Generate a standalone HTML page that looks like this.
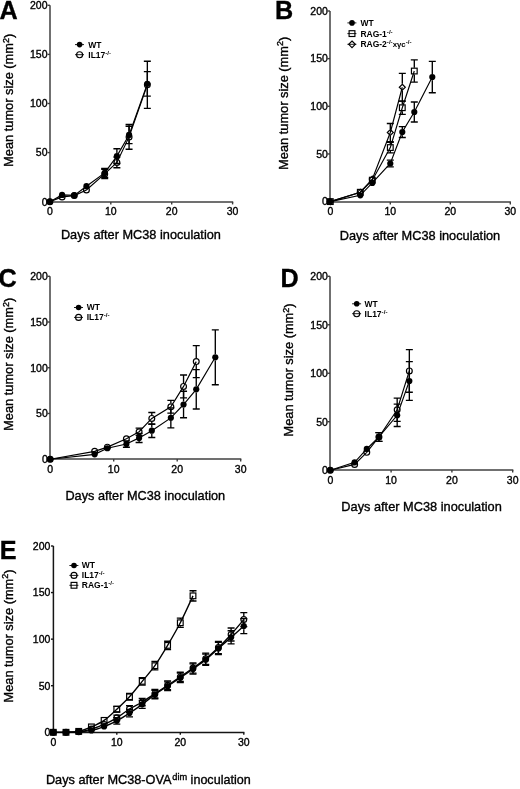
<!DOCTYPE html>
<html><head><meta charset="utf-8"><style>
html,body{margin:0;padding:0;background:#fff;}
svg{display:block;will-change:transform;}
text{font-family:"Liberation Sans", sans-serif;fill:#000;stroke:#000;stroke-width:0.35px;}
.nb{stroke-width:0}
</style></head><body>
<svg width="520" height="789" viewBox="0 0 520 789">
<rect width="520" height="789" fill="#fff"/>

<line x1="50" y1="5.3" x2="50" y2="203" stroke="#707070" stroke-width="2"/><line x1="49" y1="202" x2="233.2" y2="202" stroke="#707070" stroke-width="2"/><line x1="47.6" y1="201.7" x2="50" y2="201.7" stroke="#3c3c3c" stroke-width="1.4"/><text x="47.5" y="205.5" text-anchor="end" font-size="10.5">0</text><line x1="47.6" y1="152.6" x2="50" y2="152.6" stroke="#3c3c3c" stroke-width="1.4"/><text x="47.5" y="156.4" text-anchor="end" font-size="10.5">50</text><line x1="47.6" y1="103.5" x2="50" y2="103.5" stroke="#3c3c3c" stroke-width="1.4"/><text x="47.5" y="107.3" text-anchor="end" font-size="10.5">100</text><line x1="47.6" y1="54.4" x2="50" y2="54.4" stroke="#3c3c3c" stroke-width="1.4"/><text x="47.5" y="58.2" text-anchor="end" font-size="10.5">150</text><line x1="47.6" y1="5.3" x2="50" y2="5.3" stroke="#3c3c3c" stroke-width="1.4"/><text x="47.5" y="9.1" text-anchor="end" font-size="10.5">200</text><line x1="49.9" y1="202" x2="49.9" y2="204.4" stroke="#3c3c3c" stroke-width="1.4"/><text x="49.9" y="215" text-anchor="middle" font-size="10.5">0</text><line x1="110.8" y1="202" x2="110.8" y2="204.4" stroke="#3c3c3c" stroke-width="1.4"/><text x="110.8" y="215" text-anchor="middle" font-size="10.5">10</text><line x1="171.7" y1="202" x2="171.7" y2="204.4" stroke="#3c3c3c" stroke-width="1.4"/><text x="171.7" y="215" text-anchor="middle" font-size="10.5">20</text><line x1="232.6" y1="202" x2="232.6" y2="204.4" stroke="#3c3c3c" stroke-width="1.4"/><text x="232.6" y="215" text-anchor="middle" font-size="10.5">30</text>
<path d="M49.9 201.7L62.08 196.89L74.26 195.61L86.44 190.01L104.71 173.91L116.89 162.42L129.07 136.89L147.34 84.84" stroke="#000" stroke-width="1.15" fill="none"/>
<path d="M49.9 201.7L62.08 194.92L74.26 195.42L86.44 186.18L104.71 172.93L116.89 156.14L129.07 134.92L147.34 83.86" stroke="#000" stroke-width="1.15" fill="none"/>
<path d="M101.21 169.29H108.21M101.21 178.52H108.21M104.71 169.29V170.51M104.71 177.31V178.52" stroke="#000" stroke-width="1.35" fill="none"/><path d="M113.39 157.12H120.39M113.39 167.72H120.39M116.89 157.12V159.02M116.89 165.82V167.72" stroke="#000" stroke-width="1.35" fill="none"/><path d="M125.57 124.51H132.57M125.57 149.26H132.57M129.07 124.51V133.49M129.07 140.29V149.26" stroke="#000" stroke-width="1.35" fill="none"/><path d="M143.84 61.27H150.84M143.84 108.41H150.84M147.34 61.27V81.44M147.34 88.24V108.41" stroke="#000" stroke-width="1.35" fill="none"/>
<path d="M101.21 168.51H108.21M101.21 177.35H108.21M104.71 168.51V169.83M104.71 176.03V177.35" stroke="#000" stroke-width="1.35" fill="none"/><path d="M113.39 148.77H120.39M113.39 163.5H120.39M116.89 148.77V153.04M116.89 159.24V163.5" stroke="#000" stroke-width="1.35" fill="none"/><path d="M125.57 126.28H132.57M125.57 143.57H132.57M129.07 126.28V131.82M129.07 138.02V143.57" stroke="#000" stroke-width="1.35" fill="none"/><path d="M143.84 71.58H150.84M143.84 96.13H150.84M147.34 71.58V80.76M147.34 86.96V96.13" stroke="#000" stroke-width="1.35" fill="none"/>
<circle cx="49.9" cy="201.7" r="3.1" fill="#000"/><circle cx="62.08" cy="194.92" r="3.1" fill="#000"/><circle cx="74.26" cy="195.42" r="3.1" fill="#000"/><circle cx="86.44" cy="186.18" r="3.1" fill="#000"/><circle cx="104.71" cy="172.93" r="3.1" fill="#000"/><circle cx="116.89" cy="156.14" r="3.1" fill="#000"/><circle cx="129.07" cy="134.92" r="3.1" fill="#000"/><circle cx="147.34" cy="83.86" r="3.1" fill="#000"/>
<circle cx="49.9" cy="201.7" r="2.9" fill="none" stroke="#000" stroke-width="1.2"/><circle cx="62.08" cy="196.89" r="2.9" fill="none" stroke="#000" stroke-width="1.2"/><circle cx="74.26" cy="195.61" r="2.9" fill="none" stroke="#000" stroke-width="1.2"/><circle cx="86.44" cy="190.01" r="2.9" fill="none" stroke="#000" stroke-width="1.2"/><circle cx="104.71" cy="173.91" r="2.9" fill="none" stroke="#000" stroke-width="1.2"/><circle cx="116.89" cy="162.42" r="2.9" fill="none" stroke="#000" stroke-width="1.2"/><circle cx="129.07" cy="136.89" r="2.9" fill="none" stroke="#000" stroke-width="1.2"/><circle cx="147.34" cy="84.84" r="2.9" fill="none" stroke="#000" stroke-width="1.2"/>
<line x1="330" y1="11" x2="330" y2="203" stroke="#707070" stroke-width="2"/><line x1="329" y1="202" x2="510.9" y2="202" stroke="#707070" stroke-width="2"/><line x1="327.6" y1="201.6" x2="330" y2="201.6" stroke="#3c3c3c" stroke-width="1.4"/><text x="327.9" y="205.4" text-anchor="end" font-size="10.5">0</text><line x1="327.6" y1="153.95" x2="330" y2="153.95" stroke="#3c3c3c" stroke-width="1.4"/><text x="327.9" y="157.75" text-anchor="end" font-size="10.5">50</text><line x1="327.6" y1="106.3" x2="330" y2="106.3" stroke="#3c3c3c" stroke-width="1.4"/><text x="327.9" y="110.1" text-anchor="end" font-size="10.5">100</text><line x1="327.6" y1="58.65" x2="330" y2="58.65" stroke="#3c3c3c" stroke-width="1.4"/><text x="327.9" y="62.45" text-anchor="end" font-size="10.5">150</text><line x1="327.6" y1="11" x2="330" y2="11" stroke="#3c3c3c" stroke-width="1.4"/><text x="327.9" y="14.8" text-anchor="end" font-size="10.5">200</text><line x1="330.3" y1="202" x2="330.3" y2="204.4" stroke="#3c3c3c" stroke-width="1.4"/><text x="330.3" y="214.9" text-anchor="middle" font-size="10.5">0</text><line x1="390.3" y1="202" x2="390.3" y2="204.4" stroke="#3c3c3c" stroke-width="1.4"/><text x="390.3" y="214.9" text-anchor="middle" font-size="10.5">10</text><line x1="450.3" y1="202" x2="450.3" y2="204.4" stroke="#3c3c3c" stroke-width="1.4"/><text x="450.3" y="214.9" text-anchor="middle" font-size="10.5">20</text><line x1="510.3" y1="202" x2="510.3" y2="204.4" stroke="#3c3c3c" stroke-width="1.4"/><text x="510.3" y="214.9" text-anchor="middle" font-size="10.5">30</text>
<path d="M330.3 201.6L360.3 192.26L372.3 179.11L390.3 132.51L402.3 87.24" stroke="#000" stroke-width="1.15" fill="none"/>
<path d="M330.3 201.6L360.3 192.26L372.3 180.16L390.3 147.56L402.3 107.73L414.3 71.04" stroke="#000" stroke-width="1.15" fill="none"/>
<path d="M330.3 201.6L360.3 195.31L372.3 182.92L390.3 163.48L402.3 132.03L414.3 112.02L432.3 77.04" stroke="#000" stroke-width="1.15" fill="none"/>
<path d="M386.8 123.45H393.8M386.8 141.56H393.8M390.3 123.45V129.11M390.3 135.91V141.56" stroke="#000" stroke-width="1.35" fill="none"/><path d="M398.8 73.42H405.8M398.8 101.06H405.8M402.3 73.42V83.84M402.3 90.64V101.06" stroke="#000" stroke-width="1.35" fill="none"/>
<path d="M386.8 142.32H393.8M386.8 152.81H393.8M390.3 142.32V144.16M390.3 150.96V152.81" stroke="#000" stroke-width="1.35" fill="none"/><path d="M398.8 101.06H405.8M398.8 114.4H405.8M402.3 101.06V104.33M402.3 111.13V114.4" stroke="#000" stroke-width="1.35" fill="none"/><path d="M410.8 59.89H417.8M410.8 82.19H417.8M414.3 59.89V67.64M414.3 74.44V82.19" stroke="#000" stroke-width="1.35" fill="none"/>
<path d="M386.8 160.14H393.8M386.8 166.82H393.8M390.3 160.14V160.38M390.3 166.58V166.82" stroke="#000" stroke-width="1.35" fill="none"/><path d="M398.8 126.6H405.8M398.8 137.46H405.8M402.3 126.6V128.93M402.3 135.13V137.46" stroke="#000" stroke-width="1.35" fill="none"/><path d="M410.8 102.01H417.8M410.8 122.02H417.8M414.3 102.01V108.92M414.3 115.12V122.02" stroke="#000" stroke-width="1.35" fill="none"/><path d="M428.8 61.32H435.8M428.8 92.77H435.8M432.3 61.32V73.94M432.3 80.14V92.77" stroke="#000" stroke-width="1.35" fill="none"/>
<circle cx="330.3" cy="201.6" r="3.1" fill="#000"/><circle cx="360.3" cy="195.31" r="3.1" fill="#000"/><circle cx="372.3" cy="182.92" r="3.1" fill="#000"/><circle cx="390.3" cy="163.48" r="3.1" fill="#000"/><circle cx="402.3" cy="132.03" r="3.1" fill="#000"/><circle cx="414.3" cy="112.02" r="3.1" fill="#000"/><circle cx="432.3" cy="77.04" r="3.1" fill="#000"/>
<rect x="327.45" y="198.75" width="5.7" height="5.7" fill="none" stroke="#000" stroke-width="1.2"/><rect x="357.45" y="189.41" width="5.7" height="5.7" fill="none" stroke="#000" stroke-width="1.2"/><rect x="369.45" y="177.31" width="5.7" height="5.7" fill="none" stroke="#000" stroke-width="1.2"/><rect x="387.45" y="144.71" width="5.7" height="5.7" fill="none" stroke="#000" stroke-width="1.2"/><rect x="399.45" y="104.88" width="5.7" height="5.7" fill="none" stroke="#000" stroke-width="1.2"/><rect x="411.45" y="68.19" width="5.7" height="5.7" fill="none" stroke="#000" stroke-width="1.2"/>
<path d="M330.3 198.6L333.3 201.6L330.3 204.6L327.3 201.6Z" fill="none" stroke="#000" stroke-width="1.2"/><path d="M360.3 189.26L363.3 192.26L360.3 195.26L357.3 192.26Z" fill="none" stroke="#000" stroke-width="1.2"/><path d="M372.3 176.11L375.3 179.11L372.3 182.11L369.3 179.11Z" fill="none" stroke="#000" stroke-width="1.2"/><path d="M390.3 129.51L393.3 132.51L390.3 135.51L387.3 132.51Z" fill="none" stroke="#000" stroke-width="1.2"/><path d="M402.3 84.24L405.3 87.24L402.3 90.24L399.3 87.24Z" fill="none" stroke="#000" stroke-width="1.2"/>
<line x1="50" y1="276.3" x2="50" y2="460" stroke="#707070" stroke-width="2"/><line x1="49" y1="459" x2="241.3" y2="459" stroke="#707070" stroke-width="2"/><line x1="47.6" y1="459.2" x2="50" y2="459.2" stroke="#3c3c3c" stroke-width="1.4"/><text x="47.8" y="463" text-anchor="end" font-size="10.5">0</text><line x1="47.6" y1="413.47" x2="50" y2="413.47" stroke="#3c3c3c" stroke-width="1.4"/><text x="47.8" y="417.27" text-anchor="end" font-size="10.5">50</text><line x1="47.6" y1="367.75" x2="50" y2="367.75" stroke="#3c3c3c" stroke-width="1.4"/><text x="47.8" y="371.55" text-anchor="end" font-size="10.5">100</text><line x1="47.6" y1="322.02" x2="50" y2="322.02" stroke="#3c3c3c" stroke-width="1.4"/><text x="47.8" y="325.82" text-anchor="end" font-size="10.5">150</text><line x1="47.6" y1="276.3" x2="50" y2="276.3" stroke="#3c3c3c" stroke-width="1.4"/><text x="47.8" y="280.1" text-anchor="end" font-size="10.5">200</text><line x1="50.2" y1="459" x2="50.2" y2="461.4" stroke="#3c3c3c" stroke-width="1.4"/><text x="50.2" y="472.5" text-anchor="middle" font-size="10.5">0</text><line x1="113.7" y1="459" x2="113.7" y2="461.4" stroke="#3c3c3c" stroke-width="1.4"/><text x="113.7" y="472.5" text-anchor="middle" font-size="10.5">10</text><line x1="177.2" y1="459" x2="177.2" y2="461.4" stroke="#3c3c3c" stroke-width="1.4"/><text x="177.2" y="472.5" text-anchor="middle" font-size="10.5">20</text><line x1="240.7" y1="459" x2="240.7" y2="461.4" stroke="#3c3c3c" stroke-width="1.4"/><text x="240.7" y="472.5" text-anchor="middle" font-size="10.5">30</text>
<path d="M50.2 459.2L94.65 451.34L107.35 447.13L126.4 438.72L139.1 431.76L151.8 418.41L170.85 406.71L183.55 386.41L196.25 361.62" stroke="#000" stroke-width="1.15" fill="none"/>
<path d="M50.2 459.2L94.65 454.35L107.35 448.23L126.4 444.02L139.1 437.89L151.8 430.67L170.85 417.86L183.55 404.51L196.25 389.33L215.3 357.32" stroke="#000" stroke-width="1.15" fill="none"/>
<path d="M135.6 428.11H142.6M135.6 435.42H142.6M139.1 428.11V428.37M139.1 435.16V435.42" stroke="#000" stroke-width="1.35" fill="none"/><path d="M148.3 412.47H155.3M148.3 424.36H155.3M151.8 412.47V415.01M151.8 421.81V424.36" stroke="#000" stroke-width="1.35" fill="none"/><path d="M167.35 400.31H174.35M167.35 413.11H174.35M170.85 400.31V403.31M170.85 410.11V413.11" stroke="#000" stroke-width="1.35" fill="none"/><path d="M180.05 374.97H187.05M180.05 397.84H187.05M183.55 374.97V383.01M183.55 389.81V397.84" stroke="#000" stroke-width="1.35" fill="none"/><path d="M192.75 345.62H199.75M192.75 377.63H199.75M196.25 345.62V358.22M196.25 365.02V377.63" stroke="#000" stroke-width="1.35" fill="none"/>
<path d="M122.9 440.82H129.9M122.9 447.22H129.9M126.4 440.82V440.92M126.4 447.12V447.22" stroke="#000" stroke-width="1.35" fill="none"/><path d="M135.6 433.32H142.6M135.6 442.46H142.6M139.1 433.32V434.79M139.1 440.99V442.46" stroke="#000" stroke-width="1.35" fill="none"/><path d="M148.3 423.81H155.3M148.3 437.53H155.3M151.8 423.81V427.57M151.8 433.77V437.53" stroke="#000" stroke-width="1.35" fill="none"/><path d="M167.35 407.81H174.35M167.35 427.92H174.35M170.85 407.81V414.76M170.85 420.96V427.92" stroke="#000" stroke-width="1.35" fill="none"/><path d="M180.05 391.25H187.05M180.05 417.77H187.05M183.55 391.25V401.41M183.55 407.61V417.77" stroke="#000" stroke-width="1.35" fill="none"/><path d="M192.75 369.67H199.75M192.75 408.99H199.75M196.25 369.67V386.23M196.25 392.43V408.99" stroke="#000" stroke-width="1.35" fill="none"/><path d="M211.8 329.89H218.8M211.8 384.76H218.8M215.3 329.89V354.22M215.3 360.42V384.76" stroke="#000" stroke-width="1.35" fill="none"/>
<circle cx="50.2" cy="459.2" r="3.1" fill="#000"/><circle cx="94.65" cy="454.35" r="3.1" fill="#000"/><circle cx="107.35" cy="448.23" r="3.1" fill="#000"/><circle cx="126.4" cy="444.02" r="3.1" fill="#000"/><circle cx="139.1" cy="437.89" r="3.1" fill="#000"/><circle cx="151.8" cy="430.67" r="3.1" fill="#000"/><circle cx="170.85" cy="417.86" r="3.1" fill="#000"/><circle cx="183.55" cy="404.51" r="3.1" fill="#000"/><circle cx="196.25" cy="389.33" r="3.1" fill="#000"/><circle cx="215.3" cy="357.32" r="3.1" fill="#000"/>
<circle cx="50.2" cy="459.2" r="2.9" fill="none" stroke="#000" stroke-width="1.2"/><circle cx="94.65" cy="451.34" r="2.9" fill="none" stroke="#000" stroke-width="1.2"/><circle cx="107.35" cy="447.13" r="2.9" fill="none" stroke="#000" stroke-width="1.2"/><circle cx="126.4" cy="438.72" r="2.9" fill="none" stroke="#000" stroke-width="1.2"/><circle cx="139.1" cy="431.76" r="2.9" fill="none" stroke="#000" stroke-width="1.2"/><circle cx="151.8" cy="418.41" r="2.9" fill="none" stroke="#000" stroke-width="1.2"/><circle cx="170.85" cy="406.71" r="2.9" fill="none" stroke="#000" stroke-width="1.2"/><circle cx="183.55" cy="386.41" r="2.9" fill="none" stroke="#000" stroke-width="1.2"/><circle cx="196.25" cy="361.62" r="2.9" fill="none" stroke="#000" stroke-width="1.2"/>
<line x1="330" y1="276.3" x2="330" y2="471" stroke="#707070" stroke-width="2"/><line x1="329" y1="470" x2="513.3" y2="470" stroke="#707070" stroke-width="2"/><line x1="327.6" y1="470.2" x2="330" y2="470.2" stroke="#3c3c3c" stroke-width="1.4"/><text x="327.9" y="474" text-anchor="end" font-size="10.5">0</text><line x1="327.6" y1="421.72" x2="330" y2="421.72" stroke="#3c3c3c" stroke-width="1.4"/><text x="327.9" y="425.52" text-anchor="end" font-size="10.5">50</text><line x1="327.6" y1="373.25" x2="330" y2="373.25" stroke="#3c3c3c" stroke-width="1.4"/><text x="327.9" y="377.05" text-anchor="end" font-size="10.5">100</text><line x1="327.6" y1="324.77" x2="330" y2="324.77" stroke="#3c3c3c" stroke-width="1.4"/><text x="327.9" y="328.57" text-anchor="end" font-size="10.5">150</text><line x1="327.6" y1="276.3" x2="330" y2="276.3" stroke="#3c3c3c" stroke-width="1.4"/><text x="327.9" y="280.1" text-anchor="end" font-size="10.5">200</text><line x1="330.3" y1="470" x2="330.3" y2="472.4" stroke="#3c3c3c" stroke-width="1.4"/><text x="330.3" y="483.5" text-anchor="middle" font-size="10.5">0</text><line x1="391.1" y1="470" x2="391.1" y2="472.4" stroke="#3c3c3c" stroke-width="1.4"/><text x="391.1" y="483.5" text-anchor="middle" font-size="10.5">10</text><line x1="451.9" y1="470" x2="451.9" y2="472.4" stroke="#3c3c3c" stroke-width="1.4"/><text x="451.9" y="483.5" text-anchor="middle" font-size="10.5">20</text><line x1="512.7" y1="470" x2="512.7" y2="472.4" stroke="#3c3c3c" stroke-width="1.4"/><text x="512.7" y="483.5" text-anchor="middle" font-size="10.5">30</text>
<path d="M330.3 470.2L354.62 464.38L366.78 452.36L378.94 436.95L397.18 409.7L409.34 370.92" stroke="#000" stroke-width="1.15" fill="none"/>
<path d="M330.3 470.2L354.62 462.35L366.78 448.97L378.94 436.95L397.18 415.33L409.34 381.01" stroke="#000" stroke-width="1.15" fill="none"/>
<path d="M375.44 432.58H382.44M375.44 441.31H382.44M378.94 432.58V433.55M378.94 440.35V441.31" stroke="#000" stroke-width="1.35" fill="none"/><path d="M393.68 398.07H400.68M393.68 421.34H400.68M397.18 398.07V406.3M397.18 413.1V421.34" stroke="#000" stroke-width="1.35" fill="none"/><path d="M405.84 349.59H412.84M405.84 392.25H412.84M409.34 349.59V367.52M409.34 374.32V392.25" stroke="#000" stroke-width="1.35" fill="none"/>
<path d="M375.44 432.58H382.44M375.44 441.31H382.44M378.94 432.58V433.85M378.94 440.05V441.31" stroke="#000" stroke-width="1.35" fill="none"/><path d="M393.68 404.18H400.68M393.68 426.48H400.68M397.18 404.18V412.23M397.18 418.43V426.48" stroke="#000" stroke-width="1.35" fill="none"/><path d="M405.84 361.62H412.84M405.84 400.4H412.84M409.34 361.62V377.91M409.34 384.11V400.4" stroke="#000" stroke-width="1.35" fill="none"/>
<circle cx="330.3" cy="470.2" r="3.1" fill="#000"/><circle cx="354.62" cy="462.35" r="3.1" fill="#000"/><circle cx="366.78" cy="448.97" r="3.1" fill="#000"/><circle cx="378.94" cy="436.95" r="3.1" fill="#000"/><circle cx="397.18" cy="415.33" r="3.1" fill="#000"/><circle cx="409.34" cy="381.01" r="3.1" fill="#000"/>
<circle cx="330.3" cy="470.2" r="2.9" fill="none" stroke="#000" stroke-width="1.2"/><circle cx="354.62" cy="464.38" r="2.9" fill="none" stroke="#000" stroke-width="1.2"/><circle cx="366.78" cy="452.36" r="2.9" fill="none" stroke="#000" stroke-width="1.2"/><circle cx="378.94" cy="436.95" r="2.9" fill="none" stroke="#000" stroke-width="1.2"/><circle cx="397.18" cy="409.7" r="2.9" fill="none" stroke="#000" stroke-width="1.2"/><circle cx="409.34" cy="370.92" r="2.9" fill="none" stroke="#000" stroke-width="1.2"/>
<line x1="53.4" y1="546" x2="53.4" y2="733.15" stroke="#151515" stroke-width="1.5"/><line x1="52.65" y1="732.4" x2="244.4" y2="732.4" stroke="#151515" stroke-width="1.5"/><line x1="51" y1="732.3" x2="53.4" y2="732.3" stroke="#151515" stroke-width="1.4"/><text x="50.4" y="736.1" text-anchor="end" font-size="10.5">0</text><line x1="51" y1="685.72" x2="53.4" y2="685.72" stroke="#151515" stroke-width="1.4"/><text x="50.4" y="689.52" text-anchor="end" font-size="10.5">50</text><line x1="51" y1="639.15" x2="53.4" y2="639.15" stroke="#151515" stroke-width="1.4"/><text x="50.4" y="642.95" text-anchor="end" font-size="10.5">100</text><line x1="51" y1="592.57" x2="53.4" y2="592.57" stroke="#151515" stroke-width="1.4"/><text x="50.4" y="596.37" text-anchor="end" font-size="10.5">150</text><line x1="51" y1="546" x2="53.4" y2="546" stroke="#151515" stroke-width="1.4"/><text x="50.4" y="549.8" text-anchor="end" font-size="10.5">200</text><line x1="53.3" y1="732.4" x2="53.3" y2="734.8" stroke="#151515" stroke-width="1.4"/><text x="53.3" y="745.6" text-anchor="middle" font-size="10.5">0</text><line x1="116.8" y1="732.4" x2="116.8" y2="734.8" stroke="#151515" stroke-width="1.4"/><text x="116.8" y="745.6" text-anchor="middle" font-size="10.5">10</text><line x1="180.3" y1="732.4" x2="180.3" y2="734.8" stroke="#151515" stroke-width="1.4"/><text x="180.3" y="745.6" text-anchor="middle" font-size="10.5">20</text><line x1="243.8" y1="732.4" x2="243.8" y2="734.8" stroke="#151515" stroke-width="1.4"/><text x="243.8" y="745.6" text-anchor="middle" font-size="10.5">30</text>
<path d="M53.3 732.3C55.42 732.3 61.77 732.46 66 732.3C70.23 732.14 74.47 732.27 78.7 731.37C82.93 730.47 87.17 728.73 91.4 726.9C95.63 725.07 99.87 723.33 104.1 720.38C108.33 717.43 112.57 713.14 116.8 709.2C121.03 705.26 125.27 701.36 129.5 696.72C133.73 692.07 137.97 686.52 142.2 681.35C146.43 676.18 150.67 671.69 154.9 665.7C159.13 659.71 163.37 652.55 167.6 645.39C171.83 638.23 176.07 631.01 180.3 622.76C184.53 614.5 190.88 600.32 193 595.84" stroke="#000" stroke-width="1.35" fill="none"/>
<path d="M53.3 732.3C55.42 732.3 61.77 732.38 66 732.3C70.23 732.22 74.47 732.38 78.7 731.83C82.93 731.29 87.17 730.28 91.4 729.04C95.63 727.8 99.87 726.25 104.1 724.38C108.33 722.52 112.57 720.42 116.8 717.86C121.03 715.3 125.27 711.65 129.5 709.01C133.73 706.37 137.97 704.59 142.2 702.03C146.43 699.46 150.67 696.44 154.9 693.64C159.13 690.85 163.37 688.05 167.6 685.26C171.83 682.46 176.07 679.75 180.3 676.88C184.53 674 188.77 671.05 193 668.03C197.23 665 201.47 662.13 205.7 658.71C209.93 655.3 214.17 651.57 218.4 647.53C222.63 643.5 226.87 639.15 231.1 634.49C235.33 629.83 241.68 622.07 243.8 619.59" stroke="#000" stroke-width="1.35" fill="none"/>
<path d="M53.3 732.3C55.42 732.3 61.77 732.38 66 732.3C70.23 732.22 74.47 732.14 78.7 731.83C82.93 731.52 87.17 731.32 91.4 730.44C95.63 729.55 99.87 728.12 104.1 726.52C108.33 724.93 112.57 723.08 116.8 720.84C121.03 718.61 125.27 715.86 129.5 713.11C133.73 710.36 137.97 707.44 142.2 704.35C146.43 701.27 150.67 697.6 154.9 694.57C159.13 691.55 163.37 688.99 167.6 686.19C171.83 683.4 176.07 680.68 180.3 677.81C184.53 674.94 188.77 671.99 193 668.96C197.23 665.93 201.47 663.06 205.7 659.64C209.93 656.23 214.17 652.19 218.4 648.46C222.63 644.74 226.87 641.01 231.1 637.29C235.33 633.56 241.68 627.97 243.8 626.11" stroke="#000" stroke-width="1.35" fill="none"/>
<path d="M113.3 706.4H120.3M113.3 711.99H120.3" stroke="#000" stroke-width="1.35" fill="none"/><path d="M126 693.46H133M126 699.98H133" stroke="#000" stroke-width="1.35" fill="none"/><path d="M138.7 677.62H145.7M138.7 685.07H145.7M142.2 677.62V677.95M142.2 684.75V685.07" stroke="#000" stroke-width="1.35" fill="none"/><path d="M151.4 661.51H158.4M151.4 669.89H158.4M154.9 661.51V662.3M154.9 669.1V669.89" stroke="#000" stroke-width="1.35" fill="none"/><path d="M164.1 641.2H171.1M164.1 649.58H171.1M167.6 641.2V641.99M167.6 648.79V649.58" stroke="#000" stroke-width="1.35" fill="none"/><path d="M176.8 618.1H183.8M176.8 627.41H183.8M180.3 618.1V619.36M180.3 626.16V627.41" stroke="#000" stroke-width="1.35" fill="none"/><path d="M189.5 590.71H196.5M189.5 600.96H196.5M193 590.71V592.44M193 599.24V600.96" stroke="#000" stroke-width="1.35" fill="none"/>
<path d="M113.3 715.07H120.3M113.3 720.66H120.3" stroke="#000" stroke-width="1.35" fill="none"/><path d="M126 705.75H133M126 712.27H133" stroke="#000" stroke-width="1.35" fill="none"/><path d="M138.7 698.3H145.7M138.7 705.75H145.7M142.2 698.3V698.63M142.2 705.43V705.75" stroke="#000" stroke-width="1.35" fill="none"/><path d="M151.4 689.45H158.4M151.4 697.83H158.4M154.9 689.45V690.24M154.9 697.04V697.83" stroke="#000" stroke-width="1.35" fill="none"/><path d="M164.1 680.88H171.1M164.1 689.64H171.1M167.6 680.88V681.86M167.6 688.66V689.64" stroke="#000" stroke-width="1.35" fill="none"/><path d="M176.8 672.22H183.8M176.8 681.53H183.8M180.3 672.22V673.48M180.3 680.28V681.53" stroke="#000" stroke-width="1.35" fill="none"/><path d="M189.5 662.9H196.5M189.5 673.15H196.5M193 662.9V664.63M193 671.43V673.15" stroke="#000" stroke-width="1.35" fill="none"/><path d="M202.2 653.12H209.2M202.2 664.3H209.2M205.7 653.12V655.31M205.7 662.11V664.3" stroke="#000" stroke-width="1.35" fill="none"/><path d="M214.9 641.48H221.9M214.9 653.59H221.9M218.4 641.48V644.13M218.4 650.93V653.59" stroke="#000" stroke-width="1.35" fill="none"/><path d="M227.6 627.97H234.6M227.6 641.01H234.6M231.1 627.97V631.09M231.1 637.89V641.01" stroke="#000" stroke-width="1.35" fill="none"/><path d="M240.3 612.6H247.3M240.3 626.57H247.3M243.8 612.6V616.19M243.8 622.99V626.57" stroke="#000" stroke-width="1.35" fill="none"/>
<path d="M113.3 717.58H120.3M113.3 724.1H120.3M116.8 717.58V717.74M116.8 723.94V724.1" stroke="#000" stroke-width="1.35" fill="none"/><path d="M126 709.39H133M126 716.84H133M129.5 709.39V710.01M129.5 716.21V716.84" stroke="#000" stroke-width="1.35" fill="none"/><path d="M138.7 700.35H145.7M138.7 708.36H145.7M142.2 700.35V701.25M142.2 707.45V708.36" stroke="#000" stroke-width="1.35" fill="none"/><path d="M151.4 690.38H158.4M151.4 698.77H158.4M154.9 690.38V691.47M154.9 697.67V698.77" stroke="#000" stroke-width="1.35" fill="none"/><path d="M164.1 681.81H171.1M164.1 690.57H171.1M167.6 681.81V683.09M167.6 689.29V690.57" stroke="#000" stroke-width="1.35" fill="none"/><path d="M176.8 673.15H183.8M176.8 682.46H183.8M180.3 673.15V674.71M180.3 680.91V682.46" stroke="#000" stroke-width="1.35" fill="none"/><path d="M189.5 663.83H196.5M189.5 674.08H196.5M193 663.83V665.86M193 672.06V674.08" stroke="#000" stroke-width="1.35" fill="none"/><path d="M202.2 654.05H209.2M202.2 665.23H209.2M205.7 654.05V656.54M205.7 662.74V665.23" stroke="#000" stroke-width="1.35" fill="none"/><path d="M214.9 642.41H221.9M214.9 654.52H221.9M218.4 642.41V645.36M218.4 651.56V654.52" stroke="#000" stroke-width="1.35" fill="none"/><path d="M227.6 630.77H234.6M227.6 643.81H234.6M231.1 630.77V634.19M231.1 640.39V643.81" stroke="#000" stroke-width="1.35" fill="none"/><path d="M240.3 618.66H247.3M240.3 633.56H247.3M243.8 618.66V623.01M243.8 629.21V633.56" stroke="#000" stroke-width="1.35" fill="none"/>
<circle cx="53.3" cy="732.3" r="3.1" fill="#000"/><circle cx="66" cy="732.3" r="3.1" fill="#000"/><circle cx="78.7" cy="731.83" r="3.1" fill="#000"/><circle cx="91.4" cy="730.44" r="3.1" fill="#000"/><circle cx="104.1" cy="726.52" r="3.1" fill="#000"/><circle cx="116.8" cy="720.84" r="3.1" fill="#000"/><circle cx="129.5" cy="713.11" r="3.1" fill="#000"/><circle cx="142.2" cy="704.35" r="3.1" fill="#000"/><circle cx="154.9" cy="694.57" r="3.1" fill="#000"/><circle cx="167.6" cy="686.19" r="3.1" fill="#000"/><circle cx="180.3" cy="677.81" r="3.1" fill="#000"/><circle cx="193" cy="668.96" r="3.1" fill="#000"/><circle cx="205.7" cy="659.64" r="3.1" fill="#000"/><circle cx="218.4" cy="648.46" r="3.1" fill="#000"/><circle cx="231.1" cy="637.29" r="3.1" fill="#000"/><circle cx="243.8" cy="626.11" r="3.1" fill="#000"/>
<circle cx="53.3" cy="732.3" r="2.9" fill="none" stroke="#000" stroke-width="1.2"/><circle cx="66" cy="732.3" r="2.9" fill="none" stroke="#000" stroke-width="1.2"/><circle cx="78.7" cy="731.83" r="2.9" fill="none" stroke="#000" stroke-width="1.2"/><circle cx="91.4" cy="729.04" r="2.9" fill="none" stroke="#000" stroke-width="1.2"/><circle cx="104.1" cy="724.38" r="2.9" fill="none" stroke="#000" stroke-width="1.2"/><circle cx="116.8" cy="717.86" r="2.9" fill="none" stroke="#000" stroke-width="1.2"/><circle cx="129.5" cy="709.01" r="2.9" fill="none" stroke="#000" stroke-width="1.2"/><circle cx="142.2" cy="702.03" r="2.9" fill="none" stroke="#000" stroke-width="1.2"/><circle cx="154.9" cy="693.64" r="2.9" fill="none" stroke="#000" stroke-width="1.2"/><circle cx="167.6" cy="685.26" r="2.9" fill="none" stroke="#000" stroke-width="1.2"/><circle cx="180.3" cy="676.88" r="2.9" fill="none" stroke="#000" stroke-width="1.2"/><circle cx="193" cy="668.03" r="2.9" fill="none" stroke="#000" stroke-width="1.2"/><circle cx="205.7" cy="658.71" r="2.9" fill="none" stroke="#000" stroke-width="1.2"/><circle cx="218.4" cy="647.53" r="2.9" fill="none" stroke="#000" stroke-width="1.2"/><circle cx="231.1" cy="634.49" r="2.9" fill="none" stroke="#000" stroke-width="1.2"/><circle cx="243.8" cy="619.59" r="2.9" fill="none" stroke="#000" stroke-width="1.2"/>
<rect x="50.45" y="729.45" width="5.7" height="5.7" fill="none" stroke="#000" stroke-width="1.2"/><rect x="63.15" y="729.45" width="5.7" height="5.7" fill="none" stroke="#000" stroke-width="1.2"/><rect x="75.85" y="728.52" width="5.7" height="5.7" fill="none" stroke="#000" stroke-width="1.2"/><rect x="88.55" y="724.05" width="5.7" height="5.7" fill="none" stroke="#000" stroke-width="1.2"/><rect x="101.25" y="717.53" width="5.7" height="5.7" fill="none" stroke="#000" stroke-width="1.2"/><rect x="113.95" y="706.35" width="5.7" height="5.7" fill="none" stroke="#000" stroke-width="1.2"/><rect x="126.65" y="693.87" width="5.7" height="5.7" fill="none" stroke="#000" stroke-width="1.2"/><rect x="139.35" y="678.5" width="5.7" height="5.7" fill="none" stroke="#000" stroke-width="1.2"/><rect x="152.05" y="662.85" width="5.7" height="5.7" fill="none" stroke="#000" stroke-width="1.2"/><rect x="164.75" y="642.54" width="5.7" height="5.7" fill="none" stroke="#000" stroke-width="1.2"/><rect x="177.45" y="619.91" width="5.7" height="5.7" fill="none" stroke="#000" stroke-width="1.2"/><rect x="190.15" y="592.99" width="5.7" height="5.7" fill="none" stroke="#000" stroke-width="1.2"/>
<line x1="75" y1="44.6" x2="84" y2="44.6" stroke="#000" stroke-width="0.9"/><circle cx="79.6" cy="44.6" r="2.8" fill="#000"/><text x="88.3" y="47.5" font-size="8.5" font-weight="bold" class="nb">WT</text><line x1="75" y1="54.7" x2="84" y2="54.7" stroke="#000" stroke-width="0.9"/><circle cx="79.6" cy="54.7" r="3" fill="none" stroke="#000" stroke-width="1.15"/><text x="88.3" y="57.6" font-size="8.5" font-weight="bold" class="nb">IL17<tspan font-size="6.2" baseline-shift="3.2">-/-</tspan></text>
<line x1="347.4" y1="22.9" x2="356.4" y2="22.9" stroke="#000" stroke-width="0.9"/><circle cx="352" cy="22.9" r="2.8" fill="#000"/><text x="360.4" y="25.8" font-size="8.5" font-weight="bold" class="nb">WT</text><line x1="347.4" y1="33.6" x2="356.4" y2="33.6" stroke="#000" stroke-width="0.9"/><rect x="349.1" y="30.7" width="5.8" height="5.8" fill="none" stroke="#000" stroke-width="1.15"/><text x="360.4" y="36.5" font-size="8.5" font-weight="bold" class="nb">RAG-1<tspan font-size="6.2" baseline-shift="3.2">-/-</tspan></text><line x1="347.4" y1="44.3" x2="356.4" y2="44.3" stroke="#000" stroke-width="0.9"/><path d="M352 41L355.3 44.3L352 47.6L348.7 44.3Z" fill="none" stroke="#000" stroke-width="1.15"/><text x="360.4" y="47.2" font-size="8.5" font-weight="bold" class="nb">RAG-2<tspan font-size="6.2" baseline-shift="3.2">-/-</tspan><tspan font-size="7.8">x&#947;c</tspan><tspan font-size="6.2" baseline-shift="3.2">-/-</tspan></text>
<line x1="74" y1="307.5" x2="83" y2="307.5" stroke="#000" stroke-width="0.9"/><circle cx="78.6" cy="307.5" r="2.8" fill="#000"/><text x="86.7" y="310.4" font-size="8.5" font-weight="bold" class="nb">WT</text><line x1="74" y1="317.4" x2="83" y2="317.4" stroke="#000" stroke-width="0.9"/><circle cx="78.6" cy="317.4" r="3" fill="none" stroke="#000" stroke-width="1.15"/><text x="86.7" y="320.3" font-size="8.5" font-weight="bold" class="nb">IL17<tspan font-size="6.2" baseline-shift="3.2">-/-</tspan></text>
<line x1="352.1" y1="303.8" x2="361.1" y2="303.8" stroke="#000" stroke-width="0.9"/><circle cx="356.7" cy="303.8" r="2.8" fill="#000"/><text x="364.6" y="306.7" font-size="8.5" font-weight="bold" class="nb">WT</text><line x1="352.1" y1="313.7" x2="361.1" y2="313.7" stroke="#000" stroke-width="0.9"/><circle cx="356.7" cy="313.7" r="3" fill="none" stroke="#000" stroke-width="1.15"/><text x="364.6" y="316.6" font-size="8.5" font-weight="bold" class="nb">IL17<tspan font-size="6.2" baseline-shift="3.2">-/-</tspan></text>
<line x1="69.4" y1="565.5" x2="78.4" y2="565.5" stroke="#000" stroke-width="0.9"/><circle cx="74" cy="565.5" r="2.8" fill="#000"/><text x="81.8" y="568.4" font-size="8.5" font-weight="bold" class="nb">WT</text><line x1="69.4" y1="575.4" x2="78.4" y2="575.4" stroke="#000" stroke-width="0.9"/><circle cx="74" cy="575.4" r="3" fill="none" stroke="#000" stroke-width="1.15"/><text x="81.8" y="578.3" font-size="8.5" font-weight="bold" class="nb">IL17<tspan font-size="6.2" baseline-shift="3.2">-/-</tspan></text><line x1="69.4" y1="585.3" x2="78.4" y2="585.3" stroke="#000" stroke-width="0.9"/><rect x="71.1" y="582.4" width="5.8" height="5.8" fill="none" stroke="#000" stroke-width="1.15"/><text x="81.8" y="588.2" font-size="8.5" font-weight="bold" class="nb">RAG-1<tspan font-size="6.2" baseline-shift="3.2">-/-</tspan></text>
<text transform="translate(12.9,166.8) rotate(-90)" font-size="12.6" textLength="133" lengthAdjust="spacingAndGlyphs">Mean tumor size (mm<tspan font-size="8.8" dy="-4.3">2</tspan><tspan dy="4.3">)</tspan></text>
<text transform="translate(287.7,169.8) rotate(-90)" font-size="12.6" textLength="133" lengthAdjust="spacingAndGlyphs">Mean tumor size (mm<tspan font-size="8.8" dy="-4.3">2</tspan><tspan dy="4.3">)</tspan></text>
<text transform="translate(13,430.8) rotate(-90)" font-size="12.6" textLength="133" lengthAdjust="spacingAndGlyphs">Mean tumor size (mm<tspan font-size="8.8" dy="-4.3">2</tspan><tspan dy="4.3">)</tspan></text>
<text transform="translate(293,436.5) rotate(-90)" font-size="12.6" textLength="133" lengthAdjust="spacingAndGlyphs">Mean tumor size (mm<tspan font-size="8.8" dy="-4.3">2</tspan><tspan dy="4.3">)</tspan></text>
<text transform="translate(12.7,702.5) rotate(-90)" font-size="12.6" textLength="133" lengthAdjust="spacingAndGlyphs">Mean tumor size (mm<tspan font-size="8.8" dy="-4.3">2</tspan><tspan dy="4.3">)</tspan></text>
<text x="60.9" y="238.7" font-size="12.6" textLength="160" lengthAdjust="spacingAndGlyphs">Days after MC38 inoculation</text>
<text x="339.8" y="239.6" font-size="12.6" textLength="160.4" lengthAdjust="spacingAndGlyphs">Days after MC38 inoculation</text>
<text x="65.4" y="500.4" font-size="12.6" textLength="159.8" lengthAdjust="spacingAndGlyphs">Days after MC38 inoculation</text>
<text x="341.3" y="511.3" font-size="12.6" textLength="160.5" lengthAdjust="spacingAndGlyphs">Days after MC38 inoculation</text>
<text x="45.9" y="783.7" font-size="12.6" textLength="125.6" lengthAdjust="spacingAndGlyphs">Days after MC38-OVA</text>
<text x="172.3" y="779.8" font-size="9.2" textLength="14.9" lengthAdjust="spacingAndGlyphs">dim</text>
<text x="190.6" y="783.7" font-size="12.6" textLength="60.1" lengthAdjust="spacingAndGlyphs">inoculation</text>
<text x="-0.4" y="18.7" font-size="25.2" font-weight="bold">A</text>
<text x="275.1" y="18.9" font-size="25.2" font-weight="bold">B</text>
<text x="-1.5" y="287.3" font-size="25.2" font-weight="bold">C</text>
<text x="280.5" y="286.9" font-size="25.2" font-weight="bold">D</text>
<text x="-0.3" y="559.1" font-size="25.2" font-weight="bold">E</text>
</svg></body></html>
